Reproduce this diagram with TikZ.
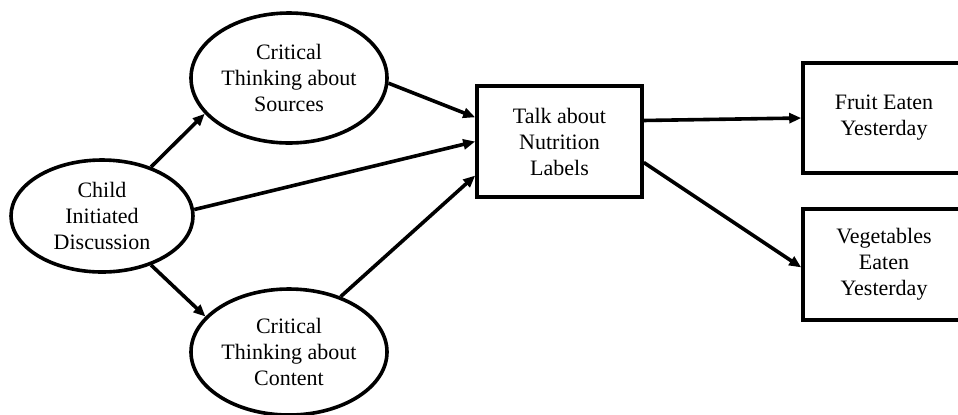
\documentclass[tikz,border=0pt]{standalone}
\usepackage{fontspec}
\setmainfont{Liberation Serif}
\usetikzlibrary{shapes.geometric,arrows.meta}
\begin{document}
\begin{tikzpicture}[x=0.5pt, y=-0.5pt,
		every node/.style={font=\fontsize{11}{13}\selectfont, align=center},
		oval/.style={draw, ellipse, line width=1.8pt, inner sep=0pt},
		box/.style={draw, rectangle, line width=1.8pt, inner sep=0pt},
		arrow/.style={-{Triangle[length=6pt,width=5pt]}, line width=1.8pt}]
		\useasboundingbox (0,0) rectangle (958,414);
		\node[oval, minimum width=91pt, minimum height=56pt] (C) at (102,216) {Child\\Initiated\\Discussion};
		\node[oval, minimum width=98pt, minimum height=65pt] (S) at (289,78) {Critical\\Thinking about\\Sources};
		\node[oval, minimum width=98pt, minimum height=63pt] (K) at (289,352) {Critical\\Thinking about\\Content};
		\node[box, minimum width=82.5pt, minimum height=55.5pt] (T) at (559.5,141.5) {Talk about\\Nutrition\\Labels};
		\node[box, minimum width=81pt, minimum height=55pt] (F) at (884,118) {Fruit Eaten\\Yesterday};
		\node[box, minimum width=81pt, minimum height=55.5pt] (V) at (884,264.5) {Vegetables\\Eaten\\Yesterday};
		
		\path [arrow] (C.45) edge (S.203);
		\path [arrow] (C.-45) edge (K.157);
		\path [arrow] (C.4) edge (T.west);
		\path [arrow] (S.-3) edge (T.164);
		\path [arrow] (K.47) edge (T.202);
		\path [arrow] (T.14) edge (F.west);
		\path [arrow] (T.-14) edge (V.182);
		\end{tikzpicture}
\end{document}
